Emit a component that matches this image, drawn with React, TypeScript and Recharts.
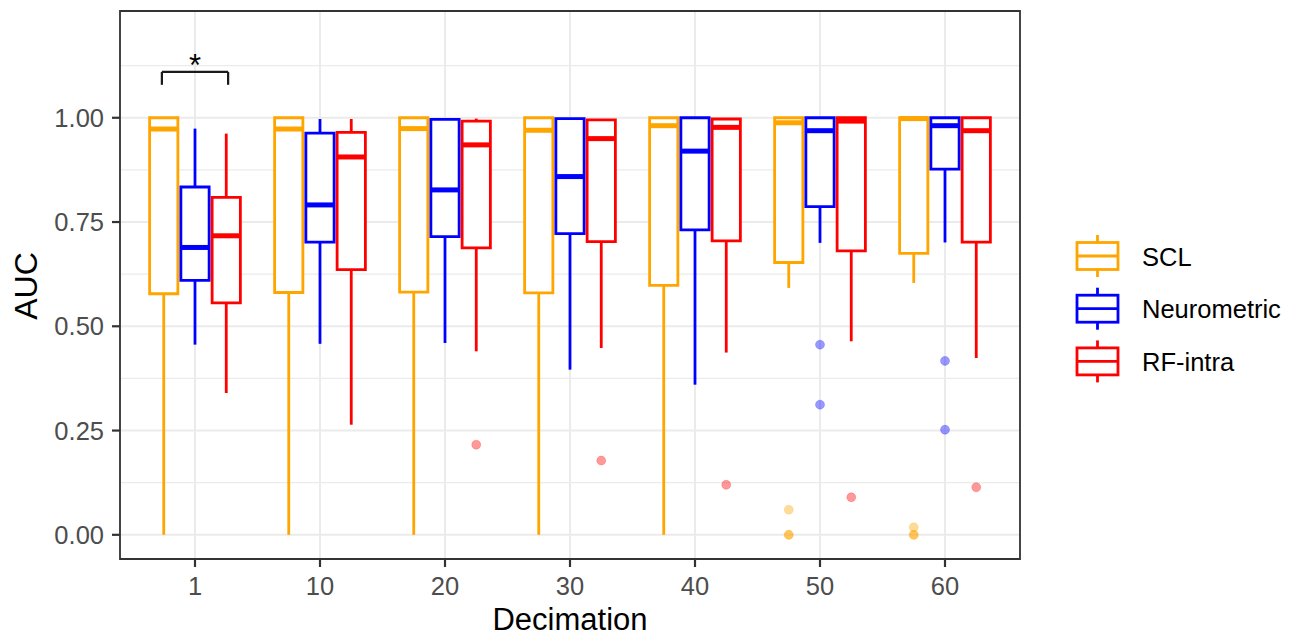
import React from "react";
import {
  ComposedChart,
  XAxis,
  YAxis,
  CartesianGrid,
  ReferenceArea,
  ReferenceLine,
  Scatter,
} from "recharts";

// ---------- data ----------
const categories = ["1", "10", "20", "30", "40", "50", "60"];
const seriesNames = ["SCL", "Neurometric", "RF-intra"];
const seriesColors = ["#FFA500", "#0000FF", "#FF0000"];

// [lower whisker, Q1, median, Q3, upper whisker] per category
const sclStats = [
  [0, 0.578, 0.973, 1.0, 1.0],
  [0, 0.581, 0.973, 1.0, 1.0],
  [0, 0.582, 0.974, 1.0, 1.0],
  [0, 0.58, 0.97, 1.0, 1.0],
  [0, 0.598, 0.981, 1.0, 1.0],
  [0.592, 0.653, 0.988, 1.0, 1.0],
  [0.604, 0.675, 0.998, 1.0, 1.0],
];
const neuroStats = [
  [0.456, 0.61, 0.689, 0.834, 0.974],
  [0.458, 0.702, 0.791, 0.963, 0.997],
  [0.46, 0.715, 0.827, 0.996, 0.996],
  [0.396, 0.722, 0.859, 0.998, 0.998],
  [0.36, 0.731, 0.92, 1.0, 1.0],
  [0.7, 0.787, 0.969, 1.0, 1.0],
  [0.701, 0.877, 0.981, 1.0, 1.0],
];
const rfStats = [
  [0.34, 0.556, 0.717, 0.809, 0.962],
  [0.264, 0.636, 0.906, 0.965, 0.997],
  [0.44, 0.688, 0.935, 0.992, 0.998],
  [0.448, 0.703, 0.95, 0.995, 0.995],
  [0.437, 0.705, 0.977, 0.997, 0.997],
  [0.464, 0.681, 0.992, 1.0, 1.0],
  [0.424, 0.702, 0.969, 1.0, 1.0],
];

// outliers: [category index, value]
const sclOutliers = [
  [5, 0.06],
  [5, 0],
  [5, 0],
  [6, 0.018],
  [6, 0],
  [6, 0],
];
const neuroOutliers = [
  [5, 0.456],
  [5, 0.312],
  [6, 0.417],
  [6, 0.252],
];
const rfOutliers = [
  [2, 0.216],
  [3, 0.178],
  [4, 0.12],
  [5, 0.09],
  [6, 0.114],
];

const yTicks = [0, 0.25, 0.5, 0.75, 1.0];
const yMinor = [0.125, 0.375, 0.625, 0.875, 1.125];
const yDomain = [-0.058, 1.256];
const xDomain = [0.4, 7.6];

// significance bracket (between SCL and RF-intra at category "1")
const sigCategory = 0;
const sigBracketTop = 1.11;
const sigBracketEnd = 1.079;
const sigTextY = 1.1;
const sigLabel = "*";

const allStats = [sclStats, neuroStats, rfStats];
const allOutliers = [sclOutliers, neuroOutliers, rfOutliers];

// ---------- layout/style ----------
const DODGE = 0.25;
const HALF = 0.113;
const FONT = "'Liberation Sans', Arial, Helvetica, sans-serif";
const TICK_FS = 25.5;
const LW = 2.8;
const MED_LW = 5;

const xPos = (cat: number, s: number) => cat + 1 + (s - 1) * DODGE;

export default function App() {
  const whiskers: React.ReactNode[] = [];
  const boxes: React.ReactNode[] = [];
  const medians: React.ReactNode[] = [];

  allStats.forEach((stats, s) => {
    const color = seriesColors[s];
    stats.forEach((st, c) => {
      const [lo, q1, med, q3, hi] = st;
      const x = xPos(c, s);
      if (hi > q3)
        whiskers.push(
          <ReferenceLine
            key={`wh-${s}-${c}`}
            segment={[
              { x, y: q3 },
              { x, y: hi },
            ]}
            stroke={color}
            strokeWidth={LW}
            ifOverflow="visible"
            zIndex={350}
          />
        );
      if (q1 > lo)
        whiskers.push(
          <ReferenceLine
            key={`wl-${s}-${c}`}
            segment={[
              { x, y: lo },
              { x, y: q1 },
            ]}
            stroke={color}
            strokeWidth={LW}
            ifOverflow="visible"
            zIndex={350}
          />
        );
      boxes.push(
        <ReferenceArea
          key={`bx-${s}-${c}`}
          x1={x - HALF}
          x2={x + HALF}
          y1={q1}
          y2={q3}
          fill="#FFFFFF"
          fillOpacity={1}
          stroke={color}
          strokeWidth={LW}
          ifOverflow="visible"
          zIndex={360}
        />
      );
      medians.push(
        <ReferenceLine
          key={`md-${s}-${c}`}
          segment={[
            { x: x - HALF, y: med },
            { x: x + HALF, y: med },
          ]}
          stroke={color}
          strokeWidth={MED_LW}
          ifOverflow="visible"
          zIndex={370}
        />
      );
    });
  });

  const outlierData = allOutliers.map((list, s) =>
    list.map(([c, v]) => ({ x: xPos(c, s), y: v }))
  );

  const bracketLeft = xPos(sigCategory, 0) - 0.015;
  const bracketRight = xPos(sigCategory, 2) + 0.015;
  const starData = [{ x: sigCategory + 1, y: sigTextY }];

  return (
    <div
      style={{
        position: "absolute",
        left: 0,
        top: 0,
        width: 1301,
        height: 637,
        background: "#FFFFFF",
        fontFamily: FONT,
      }}
    >
      <ComposedChart
        width={1301}
        height={637}
        margin={{ top: 11, right: 281, left: 50, bottom: 33 }}
        style={{ fontFamily: FONT }}
      >
        <CartesianGrid
          horizontalValues={yMinor}
          vertical={false}
          stroke="#EBEBEB"
          strokeWidth={1.2}
        />
        <CartesianGrid stroke="#EBEBEB" strokeWidth={2} />
        <XAxis
          type="number"
          dataKey="x"
          domain={xDomain}
          allowDataOverflow
          ticks={[1, 2, 3, 4, 5, 6, 7]}
          tickFormatter={(v: number) => categories[v - 1] ?? ""}
          interval={0}
          height={45}
          axisLine={false}
          tickLine={{ stroke: "#333333", strokeWidth: 2.2 }}
          tickSize={8}
          tickMargin={10}
          tick={{ fill: "#4D4D4D", fontSize: TICK_FS, fontFamily: FONT }}
        />
        <YAxis
          type="number"
          dataKey="y"
          domain={yDomain}
          allowDataOverflow
          ticks={yTicks}
          tickFormatter={(v: number) => v.toFixed(2)}
          interval={0}
          width={70}
          axisLine={false}
          tickLine={{ stroke: "#333333", strokeWidth: 2.2 }}
          tickSize={8}
          tickMargin={8}
          tick={{ fill: "#4D4D4D", fontSize: TICK_FS, fontFamily: FONT }}
        />
        {whiskers}
        {boxes}
        {medians}
        {outlierData.map((d, s) => (
          <Scatter
            key={`out-${s}`}
            name={seriesNames[s]}
            data={d}
            isAnimationActive={false}
            shape={(p: any) => (
              <circle
                cx={p.cx}
                cy={p.cy}
                r={4.5}
                fill={seriesColors[s]}
                fillOpacity={0.4}
                stroke={seriesColors[s]}
                strokeOpacity={0.25}
                strokeWidth={0.8}
              />
            )}
          />
        ))}
        <ReferenceLine
          segment={[
            { x: bracketLeft, y: sigBracketEnd },
            { x: bracketLeft, y: sigBracketTop },
          ]}
          stroke="#1A1A1A"
          strokeWidth={2.2}
          ifOverflow="visible"
        />
        <ReferenceLine
          segment={[
            { x: bracketLeft, y: sigBracketTop },
            { x: bracketRight, y: sigBracketTop },
          ]}
          stroke="#1A1A1A"
          strokeWidth={2.2}
          ifOverflow="visible"
        />
        <ReferenceLine
          segment={[
            { x: bracketRight, y: sigBracketTop },
            { x: bracketRight, y: sigBracketEnd },
          ]}
          stroke="#1A1A1A"
          strokeWidth={2.2}
          ifOverflow="visible"
        />
        <Scatter
          data={starData}
          isAnimationActive={false}
          shape={(p: any) => (
            <text
              x={p.cx}
              y={p.cy}
              textAnchor="middle"
              fontSize={31}
              fontFamily={FONT}
              fill="#000000"
            >
              {sigLabel}
            </text>
          )}
        />
        <ReferenceArea
          x1={xDomain[0]}
          x2={xDomain[1]}
          y1={yDomain[0]}
          y2={yDomain[1]}
          fill="none"
          fillOpacity={0}
          stroke="#333333"
          strokeWidth={1.8}
          ifOverflow="visible"
          zIndex={900}
        />
      </ComposedChart>

      <svg
        width={1301}
        height={637}
        style={{ position: "absolute", left: 0, top: 0, pointerEvents: "none" }}
      >
        <text
          x={570}
          y={630}
          textAnchor="middle"
          fontSize={31}
          fontFamily={FONT}
          fill="#000000"
        >
          Decimation
        </text>
        <text
          transform="translate(37,286) rotate(-90)"
          textAnchor="middle"
          fontSize={32}
          fontFamily={FONT}
          fill="#000000"
        >
          AUC
        </text>
        {seriesNames.map((name, i) => {
          const cy = 256 + i * 52.7;
          const color = seriesColors[i];
          return (
            <g key={name}>
              <line x1={1097.5} x2={1097.5} y1={cy - 21} y2={cy + 21} stroke={color} strokeWidth={LW} />
              <rect x={1077} y={cy - 13.5} width={41} height={27} fill="#FFFFFF" stroke={color} strokeWidth={LW} />
              <line x1={1077} x2={1118} y1={cy} y2={cy} stroke={color} strokeWidth={LW} />
              <text x={1142} y={cy + 9.5} fontSize={TICK_FS} fontFamily={FONT} fill="#000000">
                {name}
              </text>
            </g>
          );
        })}
      </svg>
    </div>
  );
}
